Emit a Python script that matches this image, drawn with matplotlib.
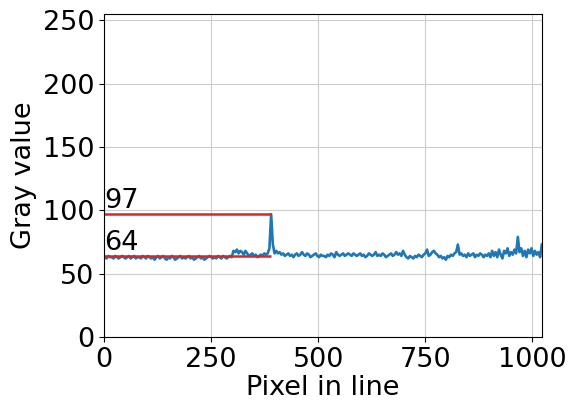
import numpy as np
import matplotlib.pyplot as plt

pixels = np.arange(2, 1024, 4)
gray = [
    63, 62, 64, 63, 63, 62, 64, 63, 62, 63, 64, 63, 62, 63, 64, 62,
    63, 64, 62, 63, 63, 62, 64, 63, 62, 64, 63, 62, 63, 61, 63, 64,
    62, 63, 64, 62, 61, 63, 62, 64, 63, 61, 62, 63, 64, 62, 63, 62,
    63, 64, 62, 63, 61, 62, 63, 64, 62, 63, 61, 62, 63, 64, 63, 62,
    63, 62, 64, 63, 62, 64, 63, 62, 63, 64, 63, 68, 67, 69, 66, 68,
    67, 65, 68, 66, 64, 65, 66, 64, 65, 63, 64, 65, 64, 66, 65, 66,
    70, 97, 73, 66, 68, 66, 67, 65, 66, 64, 65, 66, 64, 65, 63, 65,
    66, 64, 65, 67, 65, 64, 66, 65, 63, 64, 65, 66, 64, 63, 65, 64,
    64, 63, 65, 64, 66, 65, 63, 67, 65, 64, 65, 66, 64, 65, 66, 65,
    64, 66, 65, 64, 65, 66, 64, 65, 63, 64, 66, 65, 64, 65, 67, 64,
    65, 64, 66, 65, 63, 64, 65, 66, 64, 65, 67, 65, 66, 64, 68, 65,
    63, 62, 64, 63, 62, 64, 63, 65, 64, 63, 65, 66, 69, 64, 65, 67,
    68, 66, 65, 63, 64, 62, 63, 61, 64, 63, 65, 64, 66, 67, 73, 65,
    66, 64, 65, 63, 66, 64, 65, 66, 63, 65, 64, 66, 65, 63, 65, 64,
    66, 63, 68, 64, 67, 63, 69, 65, 62, 68, 66, 70, 64, 67, 65, 69,
    66, 79, 67, 70, 64, 68, 63, 69, 66, 70, 64, 68, 65, 67, 63, 73,
]

levels = [97, 64]
level_end = 390

fig = plt.figure(figsize=(5.72, 4.04), dpi=100)
ax = fig.add_axes([0.182, 0.166, 0.766, 0.799])

ax.plot(pixels, gray, color='tab:blue', lw=1.9)
ax.hlines(levels, 0, level_end, colors='#d62728', lw=1.8)
for lv in levels:
    ax.text(0, lv, str(lv), fontsize=19.5, ha='left', va='bottom')

ax.set_xlim(0, 1023)
ax.set_ylim(0, 255)
ax.set_xticks([0, 250, 500, 750, 1000])
ax.set_yticks([0, 50, 100, 150, 200, 250])
ax.tick_params(labelsize=19.5)
ax.set_xlabel('Pixel in line', fontsize=19.5, labelpad=2)
ax.set_ylabel('Gray value', fontsize=19.5, labelpad=4)
ax.grid(True, color='#cccccc')

fig.savefig('out.png')
